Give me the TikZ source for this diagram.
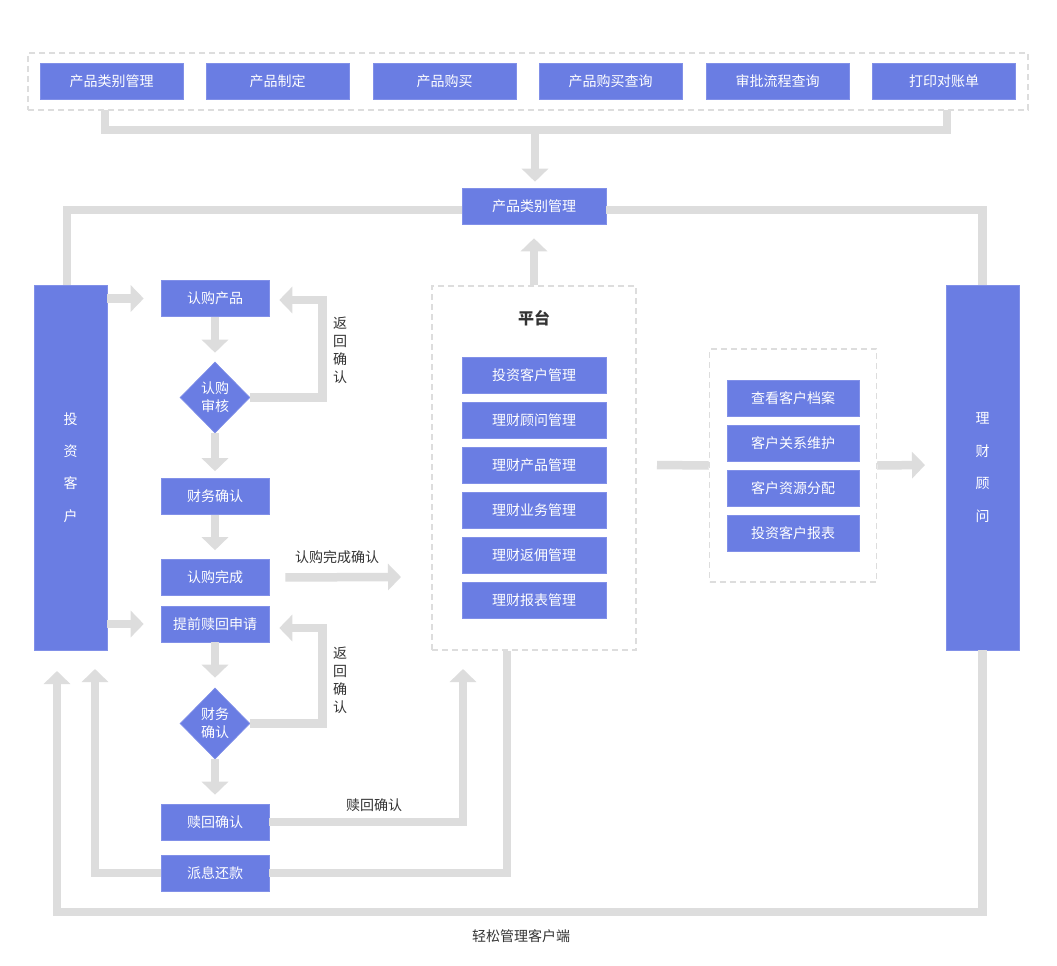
\documentclass[tikz,border=0pt]{standalone}
\usepackage{fontspec}
\newfontfamily\cjk{Noto Sans CJK SC}
\usetikzlibrary{arrows.meta,shapes.geometric,calc}
\definecolor{boxc}{HTML}{6A7DE3}
\definecolor{boxb}{HTML}{8190E8}
\definecolor{lineg}{HTML}{DDDDDD}
\definecolor{txt}{HTML}{333333}
\begin{document}
\begin{tikzpicture}[x=1pt,y=-1pt,
  box/.style={rectangle,fill=boxc,draw=boxb,line width=0.6pt,text=white,
    font=\cjk\fontsize{14}{16}\selectfont,inner sep=0pt,minimum height=36pt},
  wbox/.style={box,minimum width=144pt},
  fbox/.style={box,minimum width=108pt},
  rbox/.style={box,minimum width=132pt},
  dia/.style={diamond,fill=boxc,draw=boxb,line width=0.6pt,text=white,inner sep=0pt,
    minimum width=70pt,minimum height=71pt,align=center,
    font=\cjk\fontsize{14}{18}\selectfont},
  tall/.style={rectangle,fill=boxc,draw=boxb,line width=0.6pt,text=white,inner sep=0pt,
    minimum width=73pt,minimum height=365pt,align=center,
    font=\cjk\fontsize{14}{32.4}\selectfont},
  dbox/.style={rectangle,draw=lineg,line width=1.5pt,dash pattern=on 6pt off 4pt,inner sep=0pt},
  conn/.style={draw=lineg,line width=8.5pt},
  arr/.style={conn,-{Triangle[width=26pt,length=13pt]}},
  lab/.style={text=txt,font=\cjk\fontsize{14}{16}\selectfont,inner sep=0pt},
  vlab/.style={text=txt,font=\cjk\fontsize{14}{18}\selectfont,inner sep=0pt,align=center}
]
\useasboundingbox[fill=white] (0,0) rectangle (1057,966);

% top group
\node[dbox,minimum width=1000pt,minimum height=57pt] (topbox) at (528,81.5) {};
\node[wbox,minimum width=143pt] (t1) at (111.5,81.5) {产品类别管理};
\node[wbox,minimum width=143pt] (t2) at (277.5,81.5) {产品制定};
\node[wbox,minimum width=143pt] (t3) at (444.5,81.5) {产品购买};
\node[wbox,minimum width=143pt] (t4) at (610.5,81.5) {产品购买查询};
\node[wbox,minimum width=143pt] (t5) at (777.5,81.5) {审批流程查询};
\node[wbox,minimum width=143pt] (t6) at (944,81.5) {打印对账单};

\node[wbox] (mid) at (534,206) {产品类别管理};

% side bars
\node[tall] (inv) at (70.5,467.5) {投\\资\\客\\户};
\node[tall] (adv) at (982.5,467.5) {理\\财\\顾\\问};

% flow column
\node[fbox] (rg) at (215,298.5) {认购产品};
\node[dia] (d1) at (215,397.5) {认购\\审核};
\node[fbox] (cw) at (215,496.5) {财务确认};
\node[fbox] (wc) at (215,577.5) {认购完成};
\node[fbox] (tq) at (215,624) {提前赎回申请};
\node[dia] (d2) at (215,723.5) {财务\\确认};
\node[fbox] (sh) at (215,822) {赎回确认};
\node[fbox] (px) at (215,873) {派息还款};

% platform
\node[dbox,minimum width=204pt,minimum height=364pt] (plat) at (534,468) {};
\node[text=txt,font=\cjk\fontsize{16}{18}\selectfont\bfseries,inner sep=0pt] (pt) at (534,318) {平台};
\node[wbox] (p1) at (534,375) {投资客户管理};
\node[wbox] (p2) at (534,420) {理财顾问管理};
\node[wbox] (p3) at (534,465) {理财产品管理};
\node[wbox] (p4) at (534,510) {理财业务管理};
\node[wbox] (p5) at (534,555) {理财返佣管理};
\node[wbox] (p6) at (534,600) {理财报表管理};

% right group
\node[dbox,minimum width=167pt,minimum height=233pt] (rgp) at (793,465.5) {};
\node[rbox] (r1) at (793,398.5) {查看客户档案};
\node[rbox] (r2) at (793,443.5) {客户关系维护};
\node[rbox] (r3) at (793,488.5) {客户资源分配};
\node[rbox] (r4) at (793,533.5) {投资客户报表};

% labels
\node[vlab] (lb1) at (340,350) {返\\回\\确\\认};
\node[vlab] (lb2) at (340,680.5) {返\\回\\确\\认};
\node[lab] (lb3) at (337,557) {认购完成确认};
\node[lab] (lb4) at (374,805) {赎回确认};
\node[lab] (lb5) at (521,936) {轻松管理客户端};

% coordinates
\coordinate (jl) at (105,110);
\coordinate (jm) at (535,130);
\coordinate (jr) at (947,110);
\coordinate (a1end) at (401,577);
\coordinate (a2end) at (95,669);
\coordinate (a3end) at (463,669);
\coordinate (a4end) at (57,671);
\coordinate (cbl) at (57,912);
\coordinate (rl) at (657,465);
\coordinate (a5end) at (925,465);

% connectors
\draw[conn] (jl) |- (jm) -| (jr);
\draw[arr,shorten >=6pt] (jm) -- (mid.north -| jm);
\draw[conn] ([yshift=-4pt]mid.west) -| ([xshift=-3.5pt]inv.north);
\draw[conn] ([yshift=-4pt]mid.east) -| (adv.north);
\draw[arr,shorten >=14pt] (plat.north) -- (mid.south);

\draw[arr,shorten >=17pt] (inv.east |- rg.west) -- (rg.west);
\draw[arr,shorten >=17pt] (inv.east |- tq.west) -- (tq.west);

\draw[arr,shorten >=9pt] (rg.south) -- (d1.north);
\draw[arr,shorten >=7pt] (d1.south) -- (cw.north);
\draw[arr,shorten >=9pt] (cw.south) -- (wc.north);
\draw[arr,shorten >=10pt] (tq.south) -- (d2.north);
\draw[arr,shorten >=9pt] (d2.south) -- (sh.north);

\draw[arr,shorten >=10pt] (d1.east) -- ++(72,0) |- ([yshift=-1.5pt]rg.east);
\draw[arr,shorten >=10pt] (d2.east) -- ++(72,0) |- ([yshift=-4pt]tq.east);

\draw[arr,shorten <=16pt] (wc.east) -- (a1end);
\draw[arr] (sh.east) -| (a3end);
\draw[arr] (px.west) -| (a2end);
\draw[conn] ([xshift=-27pt]plat.south) |- (px.east);
\draw[arr] (adv.south) |- (cbl) -- (a4end);

\draw[conn] (rl) -- (rgp.west);
\draw[arr] (rgp.east) -- (a5end);
\end{tikzpicture}
\end{document}
